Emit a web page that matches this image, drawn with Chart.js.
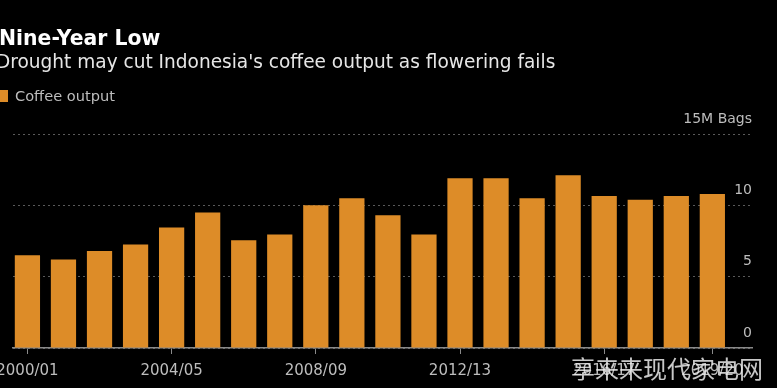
<!DOCTYPE html>
<html>
<head>
<meta charset="utf-8">
<script src="https://cdn.jsdelivr.net/npm/chart.js@4"></script>
<style>
  html, body { margin: 0; padding: 0; background: #000; }
  body { width: 777px; height: 388px; position: relative; overflow: hidden; font-family: "DejaVu Sans", sans-serif; }
  #wrap { position: absolute; left: 0; top: 0; width: 777px; height: 388px; }
  .title { position: absolute; left: -1px; top: 26px; color: #fff; font-weight: bold; font-size: 20.4px; white-space: nowrap; }
  .sub { position: absolute; left: -4px; top: 51px; color: #e6e6e6; font-size: 18.55px; white-space: nowrap; }
  .leg { position: absolute; left: 15px; top: 87px; color: #bdbdbd; font-size: 14.6px; white-space: nowrap; }
  .sw { position: absolute; left: -4px; top: 90px; width: 12px; height: 12px; background: #dd8c28; }
  .wm { position: absolute; left: 571px; top: 350px; color: rgba(235,235,235,0.85); font-family: "Noto Sans CJK SC", sans-serif; font-size: 24px; white-space: nowrap; }
</style>
</head>
<body>
<div id="wrap"><canvas id="c" width="777" height="388"></canvas></div>
<div class="title">Nine-Year Low</div>
<div class="sub">Drought may cut Indonesia's coffee output as flowering fails</div>
<div class="sw"></div>
<div class="leg">Coffee output</div>
<div class="wm">享来来现代家电网</div>
<script>
const seasons = ["2000/01","2001/02","2002/03","2003/04","2004/05","2005/06","2006/07","2007/08","2008/09","2009/10",
                 "2010/11","2011/12","2012/13","2013/14","2014/15","2015/16","2016/17","2017/18","2018/19","2019/20"];
const coffeeOutput = [6.5, 6.2, 6.8, 7.25, 8.45, 9.5, 7.55, 7.95, 10.0, 10.5,
                      9.3, 7.95, 11.9, 11.9, 10.5, 12.1, 10.65, 10.4, 10.65, 10.8];
const xTickIndices = [0, 4, 8, 12, 16, 19];
const yTicks = [0, 5, 10, 15];
const yUnitLabel = "15M Bags";

Chart.defaults.font.family = "'DejaVu Sans', sans-serif";

new Chart(document.getElementById('c'), {
  type: 'bar',
  data: {
    datasets: [{
      label: 'Coffee output',
      data: coffeeOutput.map((v, i) => ({ x: i, y: v })),
      backgroundColor: '#dd8c28',
      borderWidth: 0,
      categoryPercentage: 0.7,
      barPercentage: 1.0
    }]
  },
  options: {
    responsive: false,
    animation: false,
    events: [],
    layout: { padding: { top: 134, left: 13, right: 25, bottom: 0 } },
    plugins: { legend: { display: false }, tooltip: { enabled: false }, title: { display: false } },
    scales: {
      x: {
        type: 'linear',
        offset: false,
        min: -0.40,
        max: 20.10,
        afterBuildTicks: (scale) => { scale.ticks = xTickIndices.map(v => ({ value: v })); },
        afterFit: (scale) => { scale.paddingLeft = 0; scale.paddingRight = 0; },
        grid: { display: true, drawOnChartArea: false, drawTicks: true, tickLength: 6, color: '#8a8a8a', offset: false },
        border: { display: true, color: '#8a8a8a', width: 1.5 },
        ticks: {
          autoSkip: false, maxRotation: 0, padding: 8,
          color: '#bdbdbd', font: { size: 15 },
          callback: (v) => seasons[v]
        }
      },
      y: {
        position: 'right',
        min: 0,
        max: 15,
        afterBuildTicks: (scale) => { scale.ticks = yTicks.map(v => ({ value: v })); },
        grid: { color: '#5a5a5a', drawTicks: false, lineWidth: 1 },
        border: { display: false, dash: [2, 3] },
        ticks: {
          mirror: true, padding: 0, labelOffset: -15,
          color: '#bdbdbd', font: { size: 14 },
          callback: (v) => v === 15 ? yUnitLabel : String(v)
        }
      }
    }
  }
});
</script>
</body>
</html>
